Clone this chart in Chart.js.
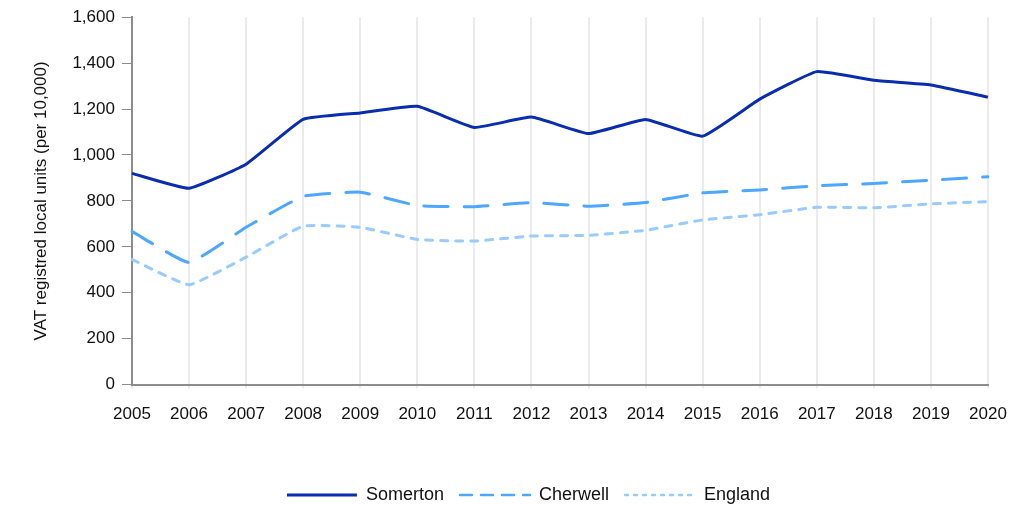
<!DOCTYPE html>
<html>
<head>
<meta charset="utf-8">
<script src="https://cdn.jsdelivr.net/npm/chart.js@4/dist/chart.umd.min.js"></script>
<style>
  html, body { margin: 0; padding: 0; background: #fff; }
  #wrap { width: 1027px; height: 505px; }
</style>
</head>
<body>
<div id="wrap"><canvas id="vatChart"></canvas></div>
<script>
const years = ['2005', '2006', '2007', '2008', '2009', '2010', '2011', '2012',
               '2013', '2014', '2015', '2016', '2017', '2018', '2019', '2020'];
const somerton = [920, 855, 960, 1155, 1183, 1212, 1120, 1165, 1093, 1155, 1082, 1243, 1363, 1325, 1305, 1252];
const cherwell = [667, 532, 685, 820, 838, 780, 775, 792, 777, 793, 835, 848, 866, 876, 890, 905];
const england = [545, 435, 555, 690, 685, 632, 625, 647, 650, 672, 717, 740, 772, 770, 787, 797];

Chart.defaults.font.family = '"Liberation Sans", Arial, sans-serif';
Chart.defaults.color = '#111';

// shorter dashes in the legend swatches
const legendDash = [[], [12, 9], [3, 6]];

// nudge the legend a bit to the right, like the original
const legendShift = {
  id: 'legendShift',
  afterLayout: function(chart) {
    chart.legend.left += 21;
    chart.legend.right += 21;
  }
};

const ctx = document.getElementById('vatChart').getContext('2d');
const vatChart = new Chart(ctx, {
  type: 'line',
  data: {
    labels: years,
    datasets: [
      {
        label: 'Somerton',
        data: somerton,
        borderColor: '#0a2db0',
        borderWidth: 3,
        pointRadius: 0,
        tension: 0.12
      },
      {
        label: 'Cherwell',
        data: cherwell,
        borderColor: '#4da6ff',
        borderWidth: 3,
        borderDash: [24, 16],
        borderCapStyle: 'round',
        pointRadius: 0,
        tension: 0.12
      },
      {
        label: 'England',
        data: england,
        borderColor: '#99cbff',
        borderWidth: 3,
        borderDash: [7, 8],
        borderCapStyle: 'round',
        pointRadius: 0,
        tension: 0.12
      }
    ]
  },
  options: {
    responsive: true,
    maintainAspectRatio: false,
    animation: false,
    layout: { padding: { top: 10, right: 39, left: 27, bottom: -9 } },
    scales: {
      x: {
        grid: { color: '#ebebeb', lineWidth: 2, drawTicks: true, tickLength: 4 },
        border: { color: '#8c8c8c', width: 2 },
        ticks: { font: { size: 17 }, padding: 16, maxRotation: 0, autoSkip: false },
        afterFit: function(scale) { scale.height += 29; }
      },
      y: {
        min: 0,
        max: 1600,
        grid: { drawOnChartArea: false, drawTicks: true, tickLength: 10, color: '#8c8c8c', lineWidth: 1 },
        border: { color: '#8c8c8c', width: 2 },
        ticks: {
          stepSize: 200,
          font: { size: 17 },
          padding: 7,
          callback: function(value) {
            return value.toLocaleString('en-GB');
          }
        },
        title: {
          display: true,
          text: 'VAT registred local units (per 10,000)',
          font: { size: 17 },
          padding: { bottom: 14 }
        }
      }
    },
    plugins: {
      legend: {
        position: 'bottom',
        labels: {
          usePointStyle: true,
          pointStyle: 'line',
          pointStyleWidth: 70,
          font: { size: 18 },
          padding: 16,
          generateLabels: function(chart) {
            const items = Chart.defaults.plugins.legend.labels.generateLabels(chart);
            items.forEach(function(item) {
              const ds = chart.data.datasets[item.datasetIndex];
              item.lineDash = legendDash[item.datasetIndex];
              item.lineCap = ds.borderCapStyle || 'butt';
              item.strokeStyle = ds.borderColor;
              item.lineWidth = item.datasetIndex === 0 ? 3 : 2.5;
            });
            return items;
          }
        }
      },
      tooltip: { enabled: false }
    }
  },
  plugins: [legendShift]
});
</script>
</body>
</html>
